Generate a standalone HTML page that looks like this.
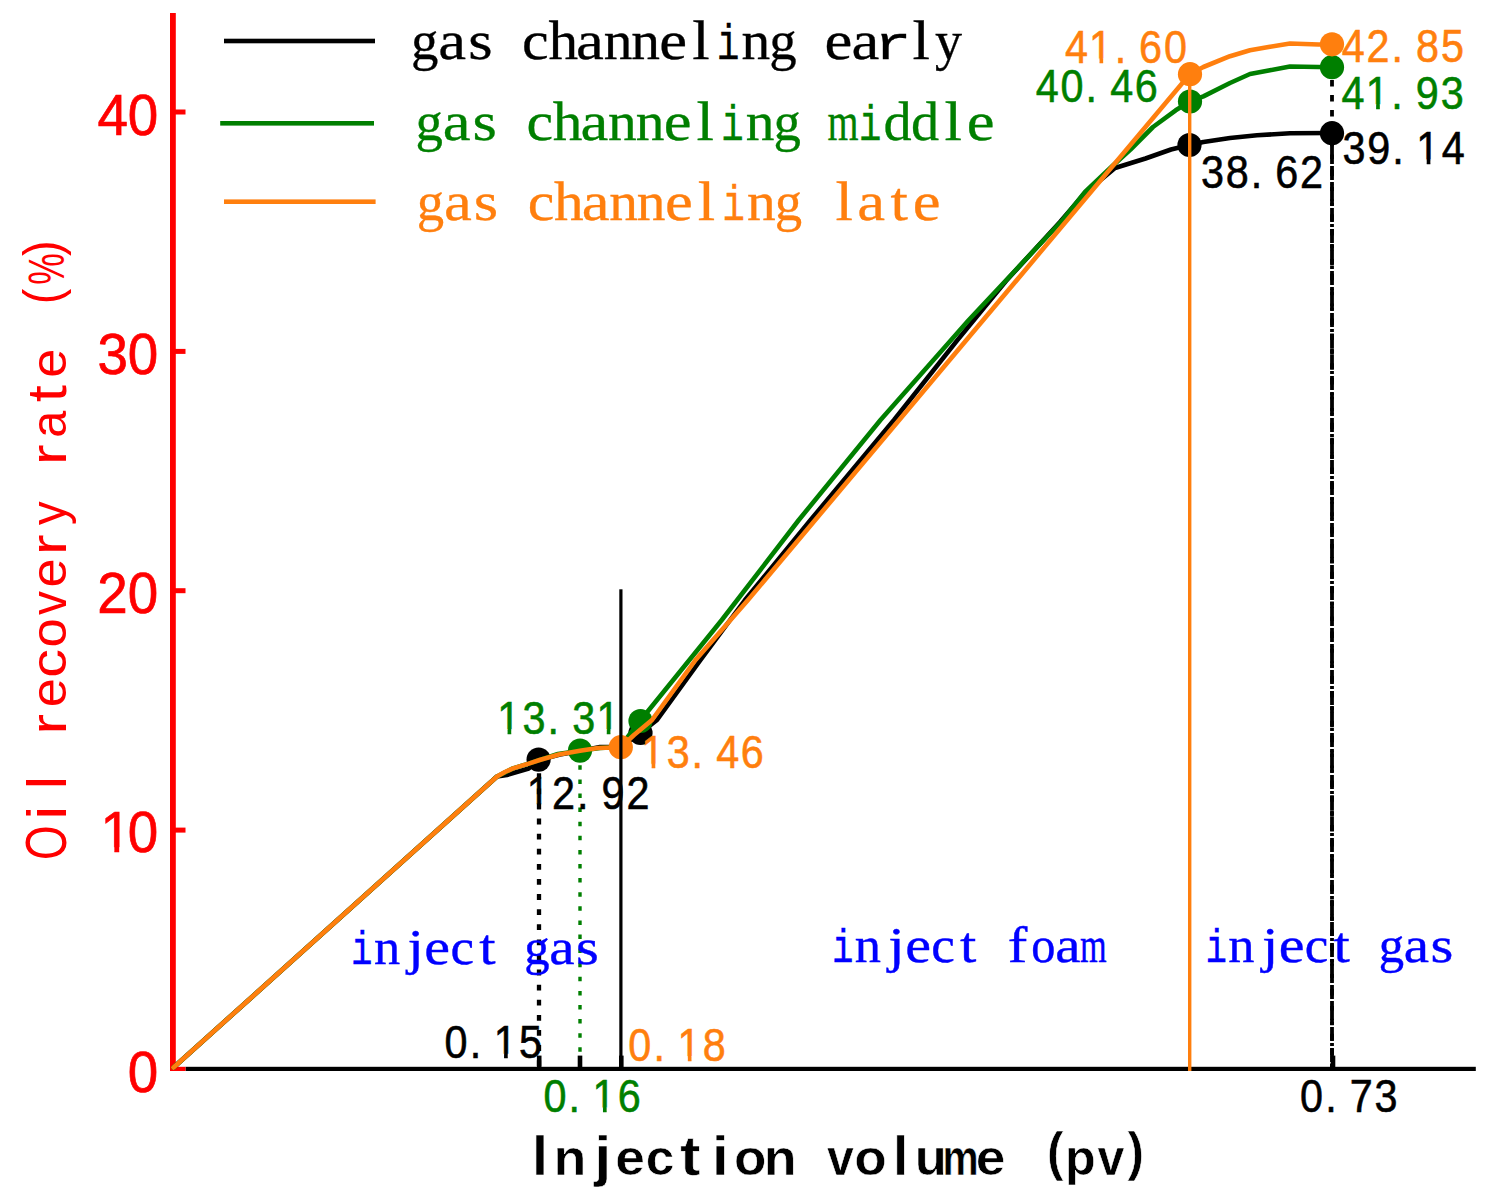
<!DOCTYPE html>
<html><head><meta charset="utf-8"><title>Oil recovery rate vs injection volume</title>
<style>html,body{margin:0;padding:0;background:#fff;overflow:hidden}svg{display:block}</style>
</head><body>
<svg width="1489" height="1194" viewBox="0 0 1489 1194"><defs><clipPath id="k1_565" clipPathUnits="userSpaceOnUse"><rect x="-56.50" y="-113.00" width="169.50" height="107.78"/><rect x="14.21" y="-56.50" width="4.99" height="84.75"/></clipPath><clipPath id="k1_470" clipPathUnits="userSpaceOnUse"><rect x="-47.00" y="-94.00" width="141.00" height="89.49"/><rect x="11.82" y="-47.00" width="4.15" height="70.50"/></clipPath></defs><rect x="170" y="13" width="5.8" height="1058" fill="#ff0000"/>
<rect x="175" y="109.5" width="10.5" height="5" fill="#ff0000"/>
<rect x="175" y="348.9" width="10.5" height="5" fill="#ff0000"/>
<rect x="175" y="588.2" width="10.5" height="5" fill="#ff0000"/>
<rect x="175" y="827.6" width="10.5" height="5" fill="#ff0000"/>
<rect x="185.5" y="1066.8" width="1290.3" height="4.2" fill="#000000"/>
<rect x="175" y="1066.8" width="10.5" height="4.2" fill="#ff0000"/>
<g style="font-family:'Liberation Sans';font-weight:normal;font-size:56.50px;fill:#ff0000;stroke:#ff0000;stroke-width:0.70px"><text transform="translate(127.76 1091.50) scale(0.970 1)">0</text></g>
<g style="font-family:'Liberation Sans';font-weight:normal;font-size:56.50px;fill:#ff0000;stroke:#ff0000;stroke-width:0.70px"><text transform="translate(100.57 852.20) scale(0.970 1)" clip-path="url(#k1_565)">1</text><text transform="translate(127.76 852.20) scale(0.970 1)">0</text></g>
<g style="font-family:'Liberation Sans';font-weight:normal;font-size:56.50px;fill:#ff0000;stroke:#ff0000;stroke-width:0.70px"><text transform="translate(97.28 612.80) scale(0.970 1)">2</text><text transform="translate(127.76 612.80) scale(0.970 1)">0</text></g>
<g style="font-family:'Liberation Sans';font-weight:normal;font-size:56.50px;fill:#ff0000;stroke:#ff0000;stroke-width:0.70px"><text transform="translate(97.44 374.00) scale(0.970 1)">3</text><text transform="translate(127.76 374.00) scale(0.970 1)">0</text></g>
<g style="font-family:'Liberation Sans';font-weight:normal;font-size:56.50px;fill:#ff0000;stroke:#ff0000;stroke-width:0.70px"><text transform="translate(97.45 135.10) scale(0.970 1)">4</text><text transform="translate(127.76 135.10) scale(0.970 1)">0</text></g>
<polyline points="173.5,1067.5 497.0,776.5 507.0,775.0 528.7,768.5 539.0,760.0 560.0,754.5 580.0,751.0 600.0,747.0 620.0,747.0 640.5,733.0 657.0,720.0 700.5,660.0 745.0,600.0 810.6,520.0 894.0,420.0 957.0,340.6 1006.0,281.0 1060.0,222.0 1085.0,193.0 1115.0,168.0 1145.5,158.5 1171.0,149.5 1189.5,145.0 1203.4,142.0 1230.0,138.0 1257.0,135.3 1290.0,133.3 1332.0,133.0" fill="none" stroke="#000000" stroke-width="4.6" stroke-linejoin="round" stroke-linecap="round"/>
<circle cx="538.6" cy="759.6" r="12.1" fill="#000000"/>
<circle cx="640.5" cy="733.0" r="12.1" fill="#000000"/>
<circle cx="1189.5" cy="145.0" r="12.1" fill="#000000"/>
<circle cx="1332.0" cy="133.2" r="12.1" fill="#000000"/>
<polyline points="173.5,1067.5 497.0,776.5 513.0,768.4 528.7,763.6 539.6,760.0 558.0,754.0 580.0,750.7 600.0,748.0 620.0,747.0 640.0,721.0 721.8,620.0 798.8,520.0 880.5,420.0 968.8,320.0 1062.6,220.0 1085.0,192.0 1112.4,166.0 1130.5,149.5 1153.0,127.0 1175.7,110.3 1190.0,101.5 1203.4,96.4 1230.0,83.0 1250.0,74.0 1270.0,70.3 1290.0,66.5 1318.0,67.0 1332.0,67.2" fill="none" stroke="#007f00" stroke-width="4.6" stroke-linejoin="round" stroke-linecap="round"/>
<circle cx="580.0" cy="750.6" r="12.1" fill="#007f00"/>
<circle cx="640.5" cy="721.0" r="12.1" fill="#007f00"/>
<circle cx="1190.0" cy="101.5" r="12.1" fill="#007f00"/>
<circle cx="1332.0" cy="67.2" r="12.1" fill="#007f00"/>
<polyline points="173.5,1067.5 497.0,776.5 505.0,772.0 513.0,768.4 528.7,763.6 539.6,760.0 558.9,754.5 580.0,750.8 598.0,748.0 613.0,747.5 620.8,747.2 634.0,735.0 652.0,720.0 695.5,660.0 748.0,600.0 1190.0,74.0 1203.4,67.0 1230.0,56.2 1250.0,50.2 1270.0,46.8 1290.0,43.5 1318.6,44.5 1332.0,44.3" fill="none" stroke="#ff7f0e" stroke-width="4.6" stroke-linejoin="round" stroke-linecap="round"/>
<circle cx="620.8" cy="747.2" r="12.1" fill="#ff7f0e"/>
<circle cx="1190.0" cy="74.2" r="12.1" fill="#ff7f0e"/>
<circle cx="1332.0" cy="44.3" r="12.1" fill="#ff7f0e"/>
<line x1="539" y1="772" x2="539" y2="1068" stroke="#000000" stroke-width="4.3" stroke-dasharray="5.8 9.3" stroke-dashoffset="13.8"/>
<line x1="580" y1="763" x2="580" y2="1068" stroke="#007f00" stroke-width="3.4" stroke-dasharray="4.5 9.6" stroke-dashoffset="11.8"/>
<rect x="619.3" y="589.3" width="3.2" height="480" fill="#000000"/>
<rect x="1188" y="74" width="3.4" height="997" fill="#ff7f0e"/>
<line x1="1332" y1="79" x2="1332" y2="1068" stroke="#000000" stroke-width="3.8" stroke-dasharray="6.5 8.4" stroke-dashoffset="13.8"/>
<line x1="1332" y1="145" x2="1332" y2="1068" stroke="#000000" stroke-width="3.8" stroke-dasharray="14 2 3 2"/>
<rect x="536.9" y="1055.6" width="4.6" height="12" fill="#000000"/>
<rect x="577.7" y="1055.6" width="4.6" height="12" fill="#000000"/>
<rect x="619.0" y="1055.6" width="4.6" height="12" fill="#000000"/>
<rect x="1330.7" y="1055.6" width="4.6" height="12" fill="#000000"/>
<rect x="224" y="38.7" width="151" height="4.6" fill="#000000"/>
<rect x="220.2" y="121" width="153.8" height="4.6" fill="#007f00"/>
<rect x="224" y="199.4" width="151.6" height="4.6" fill="#ff7f0e"/>
<g style="font-family:'Liberation Serif';font-weight:normal;font-size:54.50px;fill:#000000;stroke:#000000;stroke-width:0.30px"><text transform="translate(411.05 58.90) scale(1.005 1)">g</text><text transform="translate(438.37 58.90) scale(1.150 1)">a</text><text transform="translate(468.15 58.90) scale(1.150 1)">s</text><text transform="translate(522.06 58.90) scale(1.101 1)">c</text><text transform="translate(548.42 58.90) scale(1.088 1)">h</text><text transform="translate(576.12 58.90) scale(1.150 1)">a</text><text transform="translate(603.68 58.90) scale(1.053 1)">n</text><text transform="translate(631.23 58.90) scale(1.053 1)">n</text><text transform="translate(659.30 58.90) scale(1.150 1)">e</text><text transform="translate(692.19 58.90) scale(1.150 1)">l</text><text transform="translate(716.70 58.90) scale(0.696 0.900)" style="font-family:'Liberation Mono'">i</text><text transform="translate(741.43 58.90) scale(1.053 1)">n</text><text transform="translate(769.20 58.90) scale(1.005 1)">g</text><text transform="translate(824.60 58.90) scale(1.150 1)">e</text><text transform="translate(851.62 58.90) scale(1.150 1)">a</text><text transform="translate(874.06 58.90) scale(1.150 0.860)" style="font-family:'Liberation Mono'">r</text><text transform="translate(912.59 58.90) scale(1.150 1)">l</text><text transform="translate(935.09 58.90) scale(0.993 1)">y</text></g>
<g style="font-family:'Liberation Serif';font-weight:normal;font-size:54.50px;fill:#007f00;stroke:#007f00;stroke-width:0.30px"><text transform="translate(415.45 140.20) scale(1.005 1)">g</text><text transform="translate(442.77 140.20) scale(1.150 1)">a</text><text transform="translate(472.55 140.20) scale(1.150 1)">s</text><text transform="translate(526.46 140.20) scale(1.101 1)">c</text><text transform="translate(552.82 140.20) scale(1.088 1)">h</text><text transform="translate(580.52 140.20) scale(1.150 1)">a</text><text transform="translate(608.08 140.20) scale(1.053 1)">n</text><text transform="translate(635.63 140.20) scale(1.053 1)">n</text><text transform="translate(663.70 140.20) scale(1.150 1)">e</text><text transform="translate(696.59 140.20) scale(1.150 1)">l</text><text transform="translate(721.10 140.20) scale(0.696 0.900)" style="font-family:'Liberation Mono'">i</text><text transform="translate(745.83 140.20) scale(1.053 1)">n</text><text transform="translate(773.60 140.20) scale(1.005 1)">g</text><text transform="translate(827.41 140.20) scale(0.733 1)">m</text><text transform="translate(858.85 140.20) scale(0.696 0.900)" style="font-family:'Liberation Mono'">i</text><text transform="translate(883.42 140.20) scale(1.032 1)">d</text><text transform="translate(910.97 140.20) scale(1.032 1)">d</text><text transform="translate(944.54 140.20) scale(1.150 1)">l</text><text transform="translate(966.75 140.20) scale(1.150 1)">e</text></g>
<g style="font-family:'Liberation Serif';font-weight:normal;font-size:54.50px;fill:#ff7f0e;stroke:#ff7f0e;stroke-width:0.30px"><text transform="translate(416.65 219.60) scale(1.005 1)">g</text><text transform="translate(443.97 219.60) scale(1.150 1)">a</text><text transform="translate(473.75 219.60) scale(1.150 1)">s</text><text transform="translate(527.66 219.60) scale(1.101 1)">c</text><text transform="translate(554.02 219.60) scale(1.088 1)">h</text><text transform="translate(581.72 219.60) scale(1.150 1)">a</text><text transform="translate(609.28 219.60) scale(1.053 1)">n</text><text transform="translate(636.83 219.60) scale(1.053 1)">n</text><text transform="translate(664.90 219.60) scale(1.150 1)">e</text><text transform="translate(697.79 219.60) scale(1.150 1)">l</text><text transform="translate(722.30 219.60) scale(0.696 0.900)" style="font-family:'Liberation Mono'">i</text><text transform="translate(747.03 219.60) scale(1.053 1)">n</text><text transform="translate(774.80 219.60) scale(1.005 1)">g</text><text transform="translate(835.54 219.60) scale(1.150 1)">l</text><text transform="translate(857.22 219.60) scale(1.150 1)">a</text><text transform="translate(890.52 219.60) scale(1.150 1)">t</text><text transform="translate(912.85 219.60) scale(1.150 1)">e</text></g>
<g style="font-family:'Liberation Serif';font-weight:normal;font-size:51.00px;fill:#0000ff;stroke:#0000ff;stroke-width:0.40px"><text transform="translate(351.10 964.00) scale(0.703 0.900)" style="font-family:'Liberation Mono'">i</text><text transform="translate(373.95 964.00) scale(1.027 1)">n</text><text transform="translate(407.52 964.00) scale(1.150 1)">j</text><text transform="translate(424.33 964.00) scale(1.139 1)">e</text><text transform="translate(450.43 964.00) scale(1.041 1)">c</text><text transform="translate(479.19 964.00) scale(1.150 1)">t</text><text transform="translate(524.27 964.00) scale(0.994 1)">g</text><text transform="translate(549.35 964.00) scale(1.117 1)">a</text><text transform="translate(576.09 964.00) scale(1.150 1)">s</text></g>
<g style="font-family:'Liberation Serif';font-weight:normal;font-size:51.00px;fill:#0000ff;stroke:#0000ff;stroke-width:0.40px"><text transform="translate(831.90 962.00) scale(0.703 0.900)" style="font-family:'Liberation Mono'">i</text><text transform="translate(854.75 962.00) scale(1.027 1)">n</text><text transform="translate(888.32 962.00) scale(1.150 1)">j</text><text transform="translate(905.13 962.00) scale(1.139 1)">e</text><text transform="translate(931.23 962.00) scale(1.041 1)">c</text><text transform="translate(959.99 962.00) scale(1.150 1)">t</text><text transform="translate(1007.68 962.00) scale(1.150 1)">f</text><text transform="translate(1031.31 962.00) scale(0.948 1)">o</text><text transform="translate(1055.20 962.00) scale(1.117 1)">a</text><text transform="translate(1080.08 962.00) scale(0.672 1)">m</text></g>
<g style="font-family:'Liberation Serif';font-weight:normal;font-size:51.00px;fill:#0000ff;stroke:#0000ff;stroke-width:0.40px"><text transform="translate(1205.50 961.50) scale(0.703 0.900)" style="font-family:'Liberation Mono'">i</text><text transform="translate(1228.35 961.50) scale(1.027 1)">n</text><text transform="translate(1261.92 961.50) scale(1.150 1)">j</text><text transform="translate(1278.73 961.50) scale(1.139 1)">e</text><text transform="translate(1304.83 961.50) scale(1.041 1)">c</text><text transform="translate(1333.59 961.50) scale(1.150 1)">t</text><text transform="translate(1378.67 961.50) scale(0.994 1)">g</text><text transform="translate(1403.75 961.50) scale(1.117 1)">a</text><text transform="translate(1430.49 961.50) scale(1.150 1)">s</text></g>
<g style="font-family:'Liberation Sans';font-weight:normal;font-size:47.00px;fill:#ff7f0e;stroke:#ff7f0e;stroke-width:0.60px"><text transform="translate(1064.95 63.00) scale(0.880 1)">4</text><text transform="translate(1089.10 63.00) scale(0.880 1)" clip-path="url(#k1_470)">1</text><text transform="translate(1114.67 63.00) scale(0.880 1)">.</text><text transform="translate(1139.07 63.00) scale(0.880 1)">6</text><text transform="translate(1164.02 63.00) scale(0.880 1)">0</text></g>
<g style="font-family:'Liberation Sans';font-weight:normal;font-size:47.00px;fill:#007f00;stroke:#007f00;stroke-width:0.60px"><text transform="translate(1035.87 101.50) scale(0.880 1)">4</text><text transform="translate(1060.54 101.50) scale(0.880 1)">0</text><text transform="translate(1085.59 101.50) scale(0.880 1)">.</text><text transform="translate(1110.27 101.50) scale(0.880 1)">4</text><text transform="translate(1134.80 101.50) scale(0.880 1)">6</text></g>
<g style="font-family:'Liberation Sans';font-weight:normal;font-size:47.00px;fill:#000000;stroke:#000000;stroke-width:0.60px"><text transform="translate(1201.01 187.80) scale(0.880 1)">3</text><text transform="translate(1225.69 187.80) scale(0.880 1)">8</text><text transform="translate(1250.75 187.80) scale(0.880 1)">.</text><text transform="translate(1275.15 187.80) scale(0.880 1)">6</text><text transform="translate(1300.09 187.80) scale(0.880 1)">2</text></g>
<g style="font-family:'Liberation Sans';font-weight:normal;font-size:47.00px;fill:#ff7f0e;stroke:#ff7f0e;stroke-width:0.60px"><text transform="translate(1341.84 62.00) scale(0.880 1)">4</text><text transform="translate(1366.51 62.00) scale(0.880 1)">2</text><text transform="translate(1391.56 62.00) scale(0.880 1)">.</text><text transform="translate(1416.11 62.00) scale(0.880 1)">8</text><text transform="translate(1440.95 62.00) scale(0.880 1)">5</text></g>
<g style="font-family:'Liberation Sans';font-weight:normal;font-size:47.00px;fill:#007f00;stroke:#007f00;stroke-width:0.60px"><text transform="translate(1341.59 108.80) scale(0.880 1)">4</text><text transform="translate(1365.74 108.80) scale(0.880 1)" clip-path="url(#k1_470)">1</text><text transform="translate(1391.31 108.80) scale(0.880 1)">.</text><text transform="translate(1415.87 108.80) scale(0.880 1)">9</text><text transform="translate(1440.78 108.80) scale(0.880 1)">3</text></g>
<g style="font-family:'Liberation Sans';font-weight:normal;font-size:47.00px;fill:#000000;stroke:#000000;stroke-width:0.60px"><text transform="translate(1342.56 164.00) scale(0.880 1)">3</text><text transform="translate(1367.25 164.00) scale(0.880 1)">9</text><text transform="translate(1392.30 164.00) scale(0.880 1)">.</text><text transform="translate(1416.32 164.00) scale(0.880 1)" clip-path="url(#k1_470)">1</text><text transform="translate(1441.77 164.00) scale(0.880 1)">4</text></g>
<g style="font-family:'Liberation Sans';font-weight:normal;font-size:47.00px;fill:#007f00;stroke:#007f00;stroke-width:0.60px"><text transform="translate(497.18 733.80) scale(0.880 1)" clip-path="url(#k1_470)">1</text><text transform="translate(522.62 733.80) scale(0.880 1)">3</text><text transform="translate(547.55 733.80) scale(0.880 1)">.</text><text transform="translate(572.22 733.80) scale(0.880 1)">3</text><text transform="translate(596.38 733.80) scale(0.880 1)" clip-path="url(#k1_470)">1</text></g>
<g style="font-family:'Liberation Sans';font-weight:normal;font-size:47.00px;fill:#000000;stroke:#000000;stroke-width:0.60px"><text transform="translate(526.69 808.80) scale(0.880 1)" clip-path="url(#k1_470)">1</text><text transform="translate(552.01 808.80) scale(0.880 1)">2</text><text transform="translate(577.06 808.80) scale(0.880 1)">.</text><text transform="translate(601.62 808.80) scale(0.880 1)">9</text><text transform="translate(626.41 808.80) scale(0.880 1)">2</text></g>
<g style="font-family:'Liberation Sans';font-weight:normal;font-size:47.00px;fill:#ff7f0e;stroke:#ff7f0e;stroke-width:0.60px"><text transform="translate(641.23 768.30) scale(0.880 1)" clip-path="url(#k1_470)">1</text><text transform="translate(666.67 768.30) scale(0.880 1)">3</text><text transform="translate(691.60 768.30) scale(0.880 1)">.</text><text transform="translate(716.28 768.30) scale(0.880 1)">4</text><text transform="translate(740.81 768.30) scale(0.880 1)">6</text></g>
<g style="font-family:'Liberation Sans';font-weight:normal;font-size:47.00px;fill:#000000;stroke:#000000;stroke-width:0.60px"><text transform="translate(444.59 1058.20) scale(0.880 1)">0</text><text transform="translate(469.64 1058.20) scale(0.880 1)">.</text><text transform="translate(493.67 1058.20) scale(0.880 1)" clip-path="url(#k1_470)">1</text><text transform="translate(519.03 1058.20) scale(0.880 1)">5</text></g>
<g style="font-family:'Liberation Sans';font-weight:normal;font-size:47.00px;fill:#007f00;stroke:#007f00;stroke-width:0.60px"><text transform="translate(543.47 1112.00) scale(0.880 1)">0</text><text transform="translate(568.53 1112.00) scale(0.880 1)">.</text><text transform="translate(592.55 1112.00) scale(0.880 1)" clip-path="url(#k1_470)">1</text><text transform="translate(617.73 1112.00) scale(0.880 1)">6</text></g>
<g style="font-family:'Liberation Sans';font-weight:normal;font-size:47.00px;fill:#ff7f0e;stroke:#ff7f0e;stroke-width:0.60px"><text transform="translate(628.34 1060.80) scale(0.880 1)">0</text><text transform="translate(653.40 1060.80) scale(0.880 1)">.</text><text transform="translate(677.42 1060.80) scale(0.880 1)" clip-path="url(#k1_470)">1</text><text transform="translate(702.74 1060.80) scale(0.880 1)">8</text></g>
<g style="font-family:'Liberation Sans';font-weight:normal;font-size:47.00px;fill:#000000;stroke:#000000;stroke-width:0.60px"><text transform="translate(1300.09 1111.50) scale(0.880 1)">0</text><text transform="translate(1325.14 1111.50) scale(0.880 1)">.</text><text transform="translate(1349.67 1111.50) scale(0.880 1)">7</text><text transform="translate(1374.61 1111.50) scale(0.880 1)">3</text></g>
<g style="font-family:'Liberation Sans';font-weight:bold;font-size:55.00px;fill:#000000;stroke:#fff;stroke-width:0.60px"><text transform="translate(532.28 1175.20) scale(1.010 1.055)">I</text><text transform="translate(553.50 1175.20) scale(0.979 0.920)">n</text><text transform="translate(594.19 1175.20) scale(1.120 1)">j</text><text transform="translate(615.22 1175.20) scale(0.968 0.920)">e</text><text transform="translate(645.64 1175.20) scale(0.936 0.920)">c</text><text transform="translate(679.99 1175.20) scale(1.120 1)">t</text><text transform="translate(711.77 1175.20) scale(1.120 1)">i</text><text transform="translate(734.12 1175.20) scale(0.966 0.920)">o</text><text transform="translate(763.85 1175.20) scale(0.979 0.920)">n</text><text transform="translate(827.06 1175.20) scale(0.879 0.920)">v</text><text transform="translate(854.32 1175.20) scale(0.966 0.920)">o</text><text transform="translate(893.03 1175.20) scale(0.994 1)">l</text><text transform="translate(914.69 1175.20) scale(0.956 0.920)">u</text><text transform="translate(942.52 1175.20) scale(0.740 0.920)">m</text><text transform="translate(975.82 1175.20) scale(0.968 0.920)">e</text><text transform="translate(1046.90 1169.70) scale(0.900 0.970)">(</text><text transform="translate(1064.94 1175.20) scale(0.913 0.920)">p</text><text transform="translate(1097.51 1175.20) scale(0.879 0.920)">v</text><text transform="translate(1127.47 1169.70) scale(0.900 0.970)">)</text></g>
<g transform="rotate(-90)"><g style="font-family:'Liberation Sans';font-weight:normal;font-size:55.00px;fill:#ff0000"><text transform="translate(-859.97 65.70) scale(0.812 1.050)">O</text><text transform="translate(-819.48 65.70) scale(1.120 1)">i</text><text transform="translate(-789.56 65.70) scale(1.120 1)">l</text><text transform="translate(-734.59 65.70) scale(1.120 0.920)">r</text><text transform="translate(-707.32 65.70) scale(0.949 0.920)">e</text><text transform="translate(-677.74 65.70) scale(1.046 0.920)">c</text><text transform="translate(-647.61 65.70) scale(0.959 0.920)">o</text><text transform="translate(-614.91 65.70) scale(0.866 0.920)">v</text><text transform="translate(-587.52 65.70) scale(0.949 0.920)">e</text><text transform="translate(-554.89 65.70) scale(1.120 0.920)">r</text><text transform="translate(-525.02 65.70) scale(0.862 0.920)">y</text><text transform="translate(-465.04 65.70) scale(1.120 0.920)">r</text><text transform="translate(-437.87 65.70) scale(0.885 0.920)">a</text><text transform="translate(-402.15 65.70) scale(1.120 1)">t</text><text transform="translate(-377.87 65.70) scale(0.949 0.920)">e</text><text transform="translate(-304.20 60.20) scale(0.850 0.940)">(</text><text transform="translate(-284.71 64.20) scale(0.645 0.900)">%</text><text transform="translate(-256.07 60.20) scale(0.850 0.940)">)</text></g></g></svg>
</body></html>
